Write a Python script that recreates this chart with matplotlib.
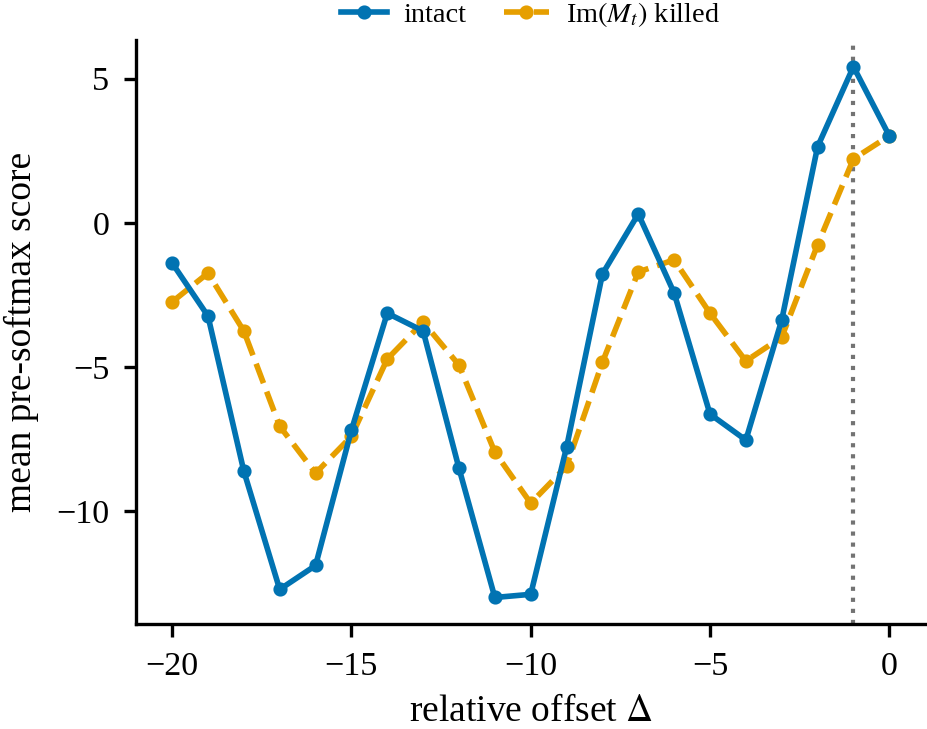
import matplotlib
matplotlib.use("Agg")
import matplotlib.pyplot as plt

plt.rcParams["font.family"] = ["Liberation Serif", "DejaVu Serif"]
plt.rcParams["mathtext.fontset"] = "stix"
plt.rcParams["axes.unicode_minus"] = True

# data
offsets = list(range(-20, 1))
intact = [-1.39, -3.23, -8.61, -12.71, -11.88, -7.19, -3.13, -3.75, -8.51, -12.99,
          -12.88, -7.78, -1.77, 0.31, -2.43, -6.63, -7.53, -3.37, 2.64, 5.42, 3.02]
killed = [-2.74, -1.74, -3.75, -7.05, -8.68, -7.40, -4.72, -3.44, -4.93, -7.95,
          -9.72, -8.44, -4.83, -1.70, -1.28, -3.13, -4.79, -3.96, -0.76, 2.22, 3.02]
marker_offset = -1

fig = plt.figure(figsize=(927 / 300, 729 / 300), dpi=300)
ax = fig.add_axes([0.147, 0.144, 0.851, 0.801])

ax.axvline(marker_offset, color="0.45", linestyle=":", linewidth=1.0, zorder=1)
ax.plot(offsets, intact, color="#0173B2", marker="o", markersize=2.4,
        linewidth=1.35, label="intact", zorder=3)
ax.plot(offsets, killed, color="#E69F00", marker="o", markersize=2.4,
        linewidth=1.35, linestyle="--", label=r"Im$(M_t)$ killed", zorder=2)

ax.set_xlabel(r"relative offset $\Delta$", fontsize=9, labelpad=3.2)
ax.set_ylabel("mean pre-softmax score", fontsize=9)
ax.set_xticks([-20, -15, -10, -5, 0])
ax.set_yticks([5, 0, -5, -10])
ax.tick_params(labelsize=8.2, width=0.8, length=3)
for s in ["top", "right"]:
    ax.spines[s].set_visible(False)
for s in ["left", "bottom"]:
    ax.spines[s].set_linewidth(0.8)

ax.legend(loc="lower center", bbox_to_anchor=(0.5, 1.0), ncol=2, frameon=False,
          fontsize=6.8, handlelength=1.6, handletextpad=0.6, columnspacing=1.3,
          borderaxespad=0)

fig.savefig("out.png", dpi=300)
